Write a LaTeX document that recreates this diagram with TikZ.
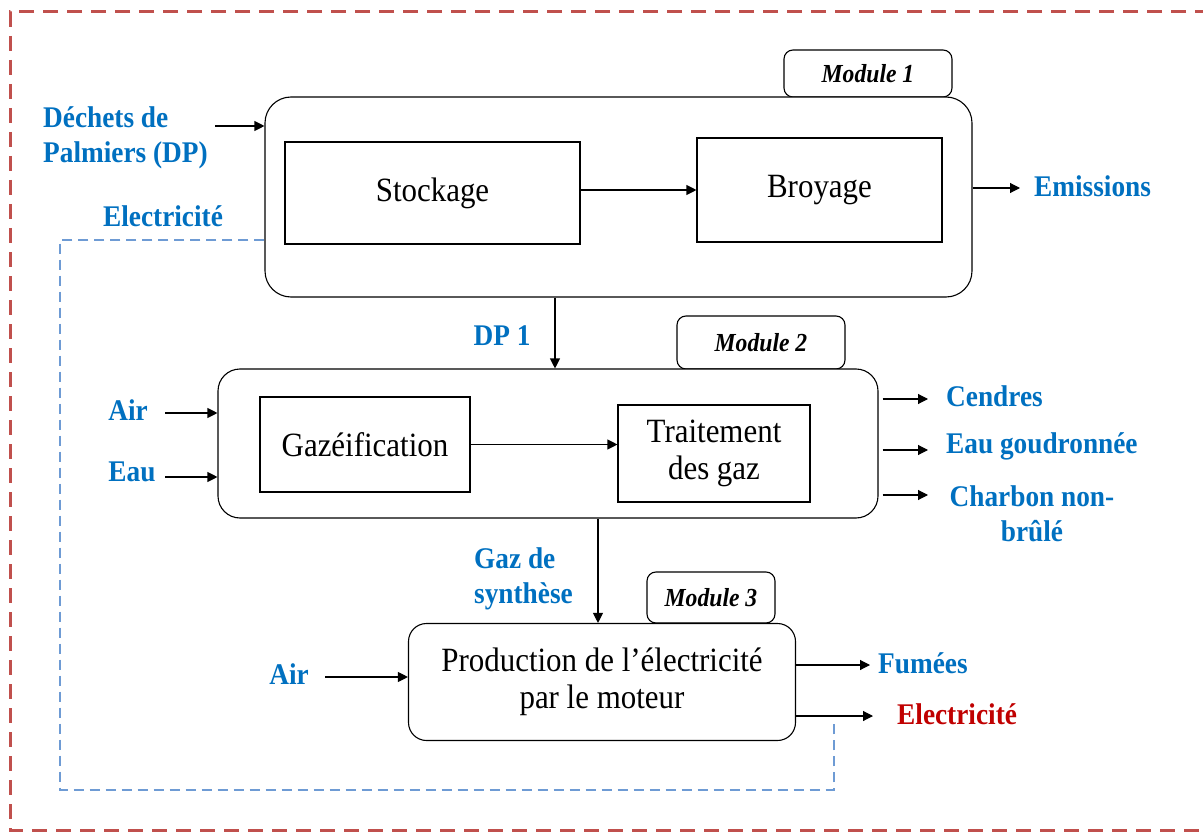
\documentclass[tikz,border=0pt]{standalone}
\usepackage{fontspec}
\setmainfont[FakeStretch=0.91]{Liberation Serif}
\usetikzlibrary{arrows.meta}
\definecolor{lblue}{RGB}{0,112,192}
\definecolor{dred}{RGB}{192,0,0}
\definecolor{bred}{RGB}{192,80,77}
\definecolor{dblue}{RGB}{110,155,212}
\begin{document}
\begin{tikzpicture}[x=1pt,y=-1pt,
 box/.style={draw, line width=1.1pt, inner sep=0pt},
 tab/.style={box, rounded corners=9pt, fill=white, font=\fontsize{26}{28}\selectfont\bfseries\itshape},
 proc/.style={box, font=\fontsize{34}{37}\selectfont, align=center},
 lab/.style={text=lblue, font=\fontsize{30}{35}\selectfont\bfseries, inner sep=0pt},
 arr/.style={line width=1.1pt, -{Triangle[length=10pt,width=10pt]}},
 elecline/.style={dblue, line width=1.2pt, dash pattern=on 10pt off 6pt},
 frameline/.style={bred, line width=3pt, dash pattern=on 15pt off 9pt},
]
\useasboundingbox (0,0) rectangle (1203,832);
% outer frame
\coordinate (f1) at (1210,12);
\coordinate (f2) at (10,12);
\coordinate (f3) at (10,830);
\coordinate (f4) at (1210,830);
\draw[frameline] (f1) -- (f2) -- (f3) -- (f4);

% tabs
\node[tab, minimum width=168pt, minimum height=47pt] (t1) at (868,73.5) {Module 1};
\node[tab, minimum width=168pt, minimum height=53pt] (t2) at (761,342.5) {Module 2};
\node[tab, minimum width=128pt, minimum height=51pt] (t3) at (711,597.5) {Module 3};

% module boxes
\node[box, rounded corners=26pt, minimum width=707pt, minimum height=200pt, fill=white] (m1) at (618.5,197) {};
\node[box, rounded corners=22pt, minimum width=660pt, minimum height=149pt, fill=white] (m2) at (548,443.5) {};
\node[proc, rounded corners=18pt, minimum width=387pt, minimum height=117pt, fill=white] (m3) at (602,682) {Production de l’électricité\\par le moteur};

% inner process boxes
\node[proc, minimum width=295pt, minimum height=102pt] (stock) at (432.5,193) {Stockage};
\node[proc, minimum width=245pt, minimum height=104pt] (broy) at (819.5,190) {Broyage};
\node[proc, minimum width=210pt, minimum height=95pt] (gaz) at (365,444.5) {Gazéification};
\node[proc, minimum width=192pt, minimum height=97pt] (trait) at (714,453.5) {Traitement\\des gaz};

\draw[arr] (stock.east |- broy.west) -- (broy.west);
\draw[arr] (gaz.east) -- (trait.west |- gaz.east);

% labels
\node[lab, anchor=west, align=left] (dp) at (43,138) {Déchets de\\Palmiers (DP)};
\node[lab] (elec) at (163,216) {Electricité};
\node[lab, anchor=west] (em) at (1034,186) {Emissions};
\node[lab] (dp1) at (502,336) {DP 1};
\node[lab] (air1) at (128,410) {Air};
\node[lab] (eau) at (132,472) {Eau};
\node[lab, anchor=west] (cend) at (946,396) {Cendres};
\node[lab, anchor=west] (goud) at (946,446) {Eau goudronnée};
\node[lab, align=center] (charb) at (1032,513.5) {Charbon non-\\brûlé};
\node[lab, anchor=west, align=left] (syn) at (474,579) {Gaz de\\synthèse};
\node[lab] (air3) at (289,674) {Air};
\node[lab, anchor=west] (fum) at (878,663) {Fumées};
\node[lab, anchor=west, text=dred] (elout) at (897,714) {Electricité};

% input arrows
\coordinate (dpin) at (215,126);
\draw[arr] (dpin) -- (m1.west |- dpin);
\coordinate (airin) at (165,413);
\draw[arr] (airin) -- (m2.west |- airin);
\coordinate (eauin) at (165,477);
\draw[arr] (eauin) -- (m2.west |- eauin);
\coordinate (air3in) at (325,677);
\draw[arr] (air3in) -- (m3.west |- air3in);

% vertical flows
\coordinate (v1) at (555,330);
\draw[arr] (m1.south -| v1) -- (m2.north -| v1);
\coordinate (v2) at (598,570);
\draw[arr] (m2.south -| v2) -- (m3.north -| v2);

% output arrows
\coordinate (o1) at (1020,188);
\draw[arr] (m1.east |- o1) -- (o1);
\coordinate (o2) at (928,399);
\draw[arr, shorten <=4pt] (m2.east |- o2) -- (o2);
\coordinate (o3) at (928,450);
\draw[arr, shorten <=4pt] (m2.east |- o3) -- (o3);
\coordinate (o4) at (928,495);
\draw[arr, shorten <=4pt] (m2.east |- o4) -- (o4);
\coordinate (o5) at (870,665);
\draw[arr] (m3.east |- o5) -- (o5);
\coordinate (o6) at (873,716);
\draw[arr] (m3.east |- o6) -- (o6);

% electricity loop
\coordinate (e1) at (60,240);
\coordinate (e2) at (60,790);
\coordinate (e3) at (834,790);
\coordinate (e4) at (834,722);
\draw[elecline] (m1.west |- e1) -- (e1) -- (e2) -- (e3) -- (e4);
\end{tikzpicture}
\end{document}
